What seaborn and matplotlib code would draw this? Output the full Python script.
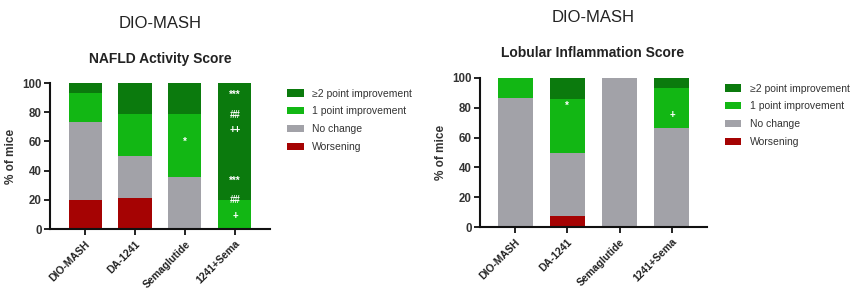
import matplotlib
matplotlib.use("Agg")
import matplotlib.pyplot as plt
import seaborn as sns
import numpy as np
from matplotlib.patches import Patch

sns.set_style("white")
plt.rcParams['font.family'] = ['Liberation Sans', 'DejaVu Sans']

groups = ["DIO-MASH", "DA-1241", "Semaglutide", "1241+Sema"]
categories = ["≥2 point improvement", "1 point improvement", "No change", "Worsening"]
colors = ["#0b7a0d", "#12b714", "#a2a2a8", "#a50303"]

# values (% of mice), per group: Worsening, No change, 1 point, >=2 point
nas_worsening = [20.0, 21.4, 0.0, 0.0]
nas_nochange = [53.3, 28.6, 35.7, 0.0]
nas_1pt = [20.0, 28.6, 42.9, 20.0]
nas_2pt = [6.7, 21.4, 21.4, 80.0]

lob_worsening = [0.0, 7.1, 0.0, 0.0]
lob_nochange = [86.7, 42.9, 100.0, 66.7]
lob_1pt = [13.3, 35.7, 0.0, 26.7]
lob_2pt = [0.0, 14.3, 0.0, 6.7]

# annotations: (group index, y, text)
nas_marks = [(2, 60, "*"), (3, 92, "***"), (3, 78, "##"), (3, 68, "++"),
             (3, 33, "***"), (3, 20, "##"), (3, 9, "+")]
lob_marks = [(1, 81, "*"), (3, 75, "+")]

fig = plt.figure(figsize=(8.56, 2.89), dpi=100)
W, H = 856, 289


def px_axes(x0, x1, ytop, ybot):
    return fig.add_axes([x0 / W, (H - ybot) / H, (x1 - x0) / W, (ybot - ytop) / H])


def draw_panel(ax, w, nc, p1, p2, marks, xlim, width, title, sub, title_y, sub_y, leg_anchor, cx):
    w = np.array(w); nc = np.array(nc); p1 = np.array(p1); p2 = np.array(p2)
    layers = [w + nc + p1 + p2, w + nc + p1, w + nc, w]
    for vals, col in zip(layers, colors):
        sns.barplot(x=groups, y=vals, color=col, saturation=1, width=width,
                    ax=ax, linewidth=0, edgecolor="none", errorbar=None)
    for gi, y, t in marks:
        ax.text(gi, y, t, color="white", ha="center", va="center", fontsize=7, fontweight="bold")
    ax.set_xlim(*xlim)
    ax.set_ylim(0, 100)
    ax.set_yticks([0, 20, 40, 60, 80, 100])
    ax.set_yticklabels([str(v) for v in [0, 20, 40, 60, 80, 100]], fontsize=8.3,
                       fontweight="bold", color="#333333")
    ax.set_xticks(range(4))
    ax.set_xticklabels(groups, rotation=45, ha="right", rotation_mode="anchor",
                       fontsize=7.5, fontweight="bold", color="#222222")
    ax.set_ylabel("% of mice", fontsize=8.5, fontweight="bold", labelpad=4, color="#333333")
    ax.set_xlabel("")
    for s in ["top", "right"]:
        ax.spines[s].set_visible(False)
    for s in ["left", "bottom"]:
        ax.spines[s].set_linewidth(1.5)
        ax.spines[s].set_color("#111111")
    ax.tick_params(axis="both", which="major", direction="out", length=4, width=1.3,
                   color="#111111", pad=2, bottom=True, left=True)
    ax.tick_params(axis="x", pad=3)
    handles = [Patch(facecolor=c, edgecolor="none") for c in colors]
    ax.legend(handles, categories, loc="upper left", bbox_to_anchor=leg_anchor, frameon=False,
              fontsize=7.5, handlelength=1.6, handleheight=0.7, labelspacing=0.75,
              handletextpad=0.8, borderaxespad=0, labelcolor="#333333")
    fig.text(cx / W, 1 - title_y / H, title, ha="center", va="center", fontsize=12, color="#222222")
    fig.text(cx / W, 1 - sub_y / H, sub, ha="center", va="center", fontsize=10,
             fontweight="bold", color="#222222")


ax1 = px_axes(50, 270, 83, 229)
draw_panel(ax1, nas_worsening, nas_nochange, nas_1pt, nas_2pt, nas_marks,
           (-0.7, 3.7), 0.66, "DIO-MASH", "NAFLD Activity Score", 23, 59,
           (1.06, 0.99), 160)

ax2 = px_axes(480, 707, 78, 227)
draw_panel(ax2, lob_worsening, lob_nochange, lob_1pt, lob_2pt, lob_marks,
           (-0.67, 3.67), 0.67, "DIO-MASH", "Lobular Inflammation Score", 17, 53,
           (1.06, 0.99), 593)

fig.savefig("out.png", dpi=100)
